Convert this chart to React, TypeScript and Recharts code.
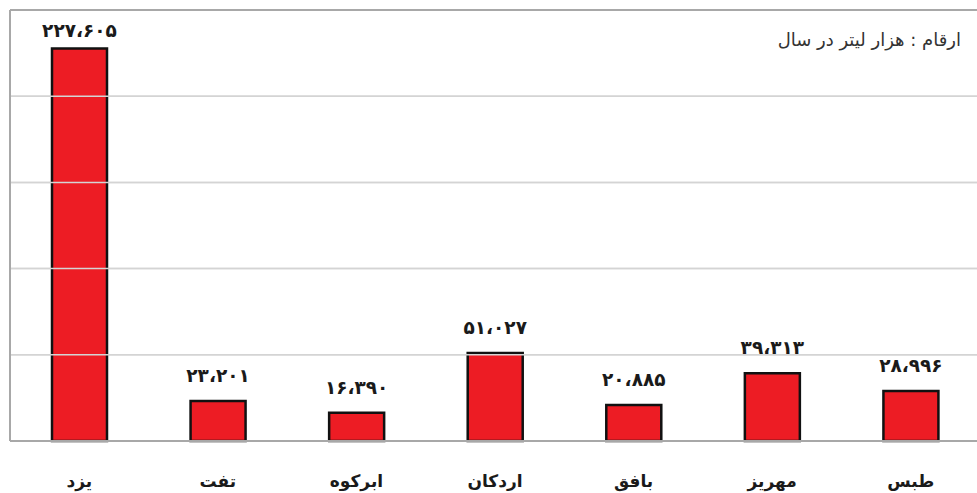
import React from 'react';
import {
  BarChart,
  Bar,
  XAxis,
  YAxis,
  CartesianGrid,
  LabelList,
  ReferenceLine,
} from 'recharts';

const cities = ['یزد', 'تفت', 'ابرکوه', 'اردکان', 'بافق', 'مهریز', 'طبس'];
const volumes = [227605, 23201, 16390, 51027, 20885, 39313, 28996];
const gridTicks = [0, 50000, 100000, 150000, 200000];
const unitNote = 'ارقام : هزار لیتر در سال';

const FONT = '"DejaVu Sans", sans-serif';

const toPersian = (n: number) => {
  const digits = '۰۱۲۳۴۵۶۷۸۹';
  const s = Math.round(n).toString().replace(/\B(?=(\d{3})+(?!\d))/g, '،');
  return s.replace(/\d/g, (d) => digits[Number(d)]);
};

const data = cities.map((city, i) => ({ city, value: volumes[i] }));

// value label above each bar; tall bar label is squeezed under the top frame
const ValueLabel = (props: any) => {
  const { x, y, width, value } = props;
  const baseY = Math.max(Number(y) - 19, 37);
  return (
    <text
      x={Number(x) + Number(width) / 2}
      y={baseY}
      textAnchor="middle"
      style={{ fontFamily: FONT, fontSize: 18.5, fontWeight: 700, fill: '#1a1a1a' }}
    >
      {toPersian(Number(value))}
    </text>
  );
};

export default function App() {
  return (
    <div
      style={{
        position: 'absolute',
        left: 0,
        top: 0,
        width: 977,
        height: 493,
        overflow: 'hidden',
        background: '#fff',
        fontFamily: FONT,
      }}
    >
      <BarChart
        width={980}
        height={493}
        data={data}
        margin={{ top: 10, right: 0, left: 9, bottom: 0 }}
        barCategoryGap={0}
      >
        <CartesianGrid vertical={false} stroke="#d4d4d4" strokeWidth={1.5} />
        {gridTicks.slice(1).map((t) => (
          <ReferenceLine key={t} y={t} stroke="#d4d4d4" strokeWidth={1.5} />
        ))}
        <ReferenceLine y={250000} stroke="#a8a8a8" strokeWidth={2} ifOverflow="visible" />
        <YAxis
          width={1}
          domain={[0, 250000]}
          ticks={gridTicks}
          tick={() => <g />}
          tickLine={false}
          axisLine={{ stroke: '#a8a8a8', strokeWidth: 2 }}
        />
        <XAxis
          dataKey="city"
          height={52}
          tickLine={false}
          axisLine={{ stroke: '#a8a8a8', strokeWidth: 2 }}
          interval={0}
          tick={{ fontFamily: FONT, fontSize: 17, fontWeight: 700, fill: '#1a1a1a', dy: 26 }}
        />
        <Bar
          dataKey="value"
          barSize={55}
          fill="#ed1c24"
          stroke="#111"
          strokeWidth={2.5}
          isAnimationActive={false}
        >
          <LabelList dataKey="value" content={ValueLabel} />
        </Bar>
      </BarChart>
      <div
        style={{
          position: 'absolute',
          right: 16,
          top: 29,
          direction: 'rtl',
          fontSize: 18,
          color: '#333',
          fontFamily: FONT,
        }}
      >
        {unitNote}
      </div>
    </div>
  );
}
